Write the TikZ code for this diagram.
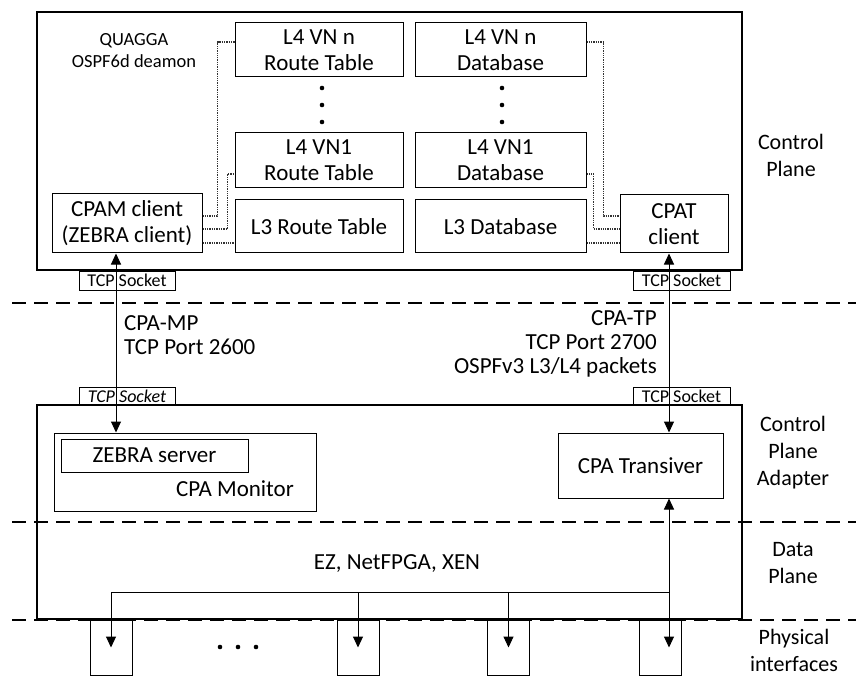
\documentclass[tikz,border=0pt]{standalone}
\usepackage{fontspec}
\setmainfont{Carlito}
\usetikzlibrary{arrows.meta,calc}

\begin{document}
\begin{tikzpicture}[x=1pt,y=-1pt,>={Triangle[length=11pt,width=10pt]},
    plane/.style={draw,line width=2.6pt,minimum width=705pt},
    blk/.style={draw,line width=1pt,align=center,inner sep=0pt,font=\fontsize{23}{26}\selectfont},
    rt/.style={blk,minimum width=168pt,minimum height=54pt},
    db/.style={blk,minimum width=171pt,minimum height=54pt},
    sock/.style={draw,line width=1pt,inner sep=0pt,minimum width=96pt,minimum height=19pt,font=\fontsize{18}{18}\selectfont},
    port/.style={draw,line width=1pt,minimum width=42pt,minimum height=55pt,inner sep=0pt},
    lbl/.style={align=center,inner sep=0pt,font=\fontsize{22}{27}\selectfont},
    txt/.style={inner sep=0pt,font=\fontsize{23}{24}\selectfont},
    dot/.style={densely dotted,line width=1.3pt,black!80},
    link/.style={<->,line width=1pt},
    sep/.style={line width=1.6pt,dash pattern=on 14pt off 8pt}]

  \useasboundingbox (0,0) rectangle (856,676);

  % --- the two planes ---
  \node[plane,minimum height=258pt] (CP) at (389.5,141) {};
  \node[plane,minimum height=214pt] (AD) at (389.5,512) {};

  % --- control plane (quagga) ---
  \node[align=center,inner sep=0pt,font=\fontsize{18.5}{22}\selectfont] (qg) at (134,51) {QUAGGA\\OSPF6d deamon};
  \node[rt] (RTn) at (319,50)    {L4 VN n\\Route Table};
  \node[rt,minimum height=55pt] (RT1) at (319,160.5) {L4 VN1\\Route Table};
  \node[rt,minimum height=53pt] (RT3) at (319,226.5) {L3 Route Table};
  \node[db] (DBn) at (500.5,50)    {L4 VN n\\Database};
  \node[db,minimum height=55pt] (DB1) at (500.5,160.5) {L4 VN1\\Database};
  \node[db,minimum height=53pt] (DB3) at (500.5,226.5) {L3 Database};
  \node[blk,minimum width=150pt,minimum height=59pt] (CPAM) at (127,223.5) {CPAM client\\(ZEBRA client)};
  \node[blk,minimum width=108pt,minimum height=58pt] (CPAT) at (674,224) {CPAT\\client};
  \foreach \y in {88,105,122} {
    \fill (322,\y) circle (2.3pt);
    \fill (502,\y) circle (2.3pt);
  }

  % --- internal links ---
  \draw[dot] ([yshift=7.5pt]CPAM.east) -- ++(15pt,0) |- ([yshift=8pt]RTn.west);
  \draw[dot] ([yshift=-5.5pt]CPAM.east) -- ++(25pt,0) |- ([yshift=-13.5pt]RT1.west);
  \draw[dot] ([yshift=-19.5pt]CPAM.east) -- ([yshift=-19.5pt]CPAM.east -| RT3.west);
  \draw[dot] ([yshift=8pt]DBn.east) -- ++(17pt,0) |- ([yshift=8pt]CPAT.west);
  \draw[dot] ([yshift=-13.5pt]DB1.east) -- ++(7pt,0) |- ([yshift=-5pt]CPAT.west);
  \draw[dot] ([yshift=-16.5pt]DB3.east) -- ([yshift=-16.5pt]DB3.east -| CPAT.west);

  % --- sockets ---
  \node[sock] (s1) at (127,280.5)   {TCP Socket};
  \node[sock,minimum width=97pt] (s2) at (681.5,280.5) {TCP Socket};
  \node[sock,minimum height=18pt] (s3) at (127,396)     {\itshape TCP Socket};
  \node[sock,minimum width=97pt,minimum height=18pt] (s4) at (681.5,396) {TCP Socket};

  \node[txt,align=left,anchor=west] (mp) at (124,335.5) {CPA-MP\\TCP Port 2600};
  \node[txt,align=right,anchor=east] (tp) at (657,343.5) {CPA-TP\\TCP Port 2700\\OSPFv3 L3/L4 packets};

  % --- control plane adapter ---
  \node[blk,minimum width=262pt,minimum height=78pt] (Mon) at (185,472) {};
  \node[blk,minimum width=187pt,minimum height=33pt] (Zeb) at (154.5,455.5) {ZEBRA server};
  \node[blk,draw=none] (monl) at (235,489) {CPA Monitor};
  \node[blk,minimum width=165pt,minimum height=65pt] (Trn) at (640.5,465.5) {CPA Transiver};

  % --- data plane and ports ---
  \node[blk,draw=none] (ez) at (397,564) {EZ, NetFPGA, XEN};
  \node[port] (p1) at (111,647.5) {};
  \node[port] (p2) at (358,647.5) {};
  \node[port] (p3) at (508.5,647.5) {};
  \node[port] (p4) at (660.5,647.5) {};
  \foreach \x in {220,238,256} \fill (\x,647) circle (2.3pt);

  % --- plane labels ---
  \node[lbl] (lcp) at (791,155.5) {Control\\Plane};
  \node[lbl] (lad) at (793,452.5) {Control\\Plane\\Adapter};
  \node[lbl] (ldp) at (793,563)   {Data\\Plane};
  \node[lbl] (lpi) at (794,650.5) {Physical\\interfaces};

  \draw[sep] (12,303) -- (856,303);
  \draw[sep] (12,522) -- (856,522);
  \draw[sep] (12,620) -- (856,620);

  % --- connections ---
  \coordinate (bus) at (0,592);
  \coordinate (mpx) at (116,0);
  \coordinate (tpx) at (669,0);
  \draw[link] (CPAM.south -| mpx) -- (Mon.north -| mpx);
  \draw[link] (CPAT.south -| tpx) -- (Trn.north -| tpx);
  \draw[link] (Trn.south -| tpx) -- (p4.center -| tpx);
  \draw[line width=1pt] (p1 |- bus) -- (tpx |- bus);
  \foreach \p in {p1,p2,p3} \draw[->,line width=1pt] (\p |- bus) -- (\p.center);
\end{tikzpicture}
\end{document}
